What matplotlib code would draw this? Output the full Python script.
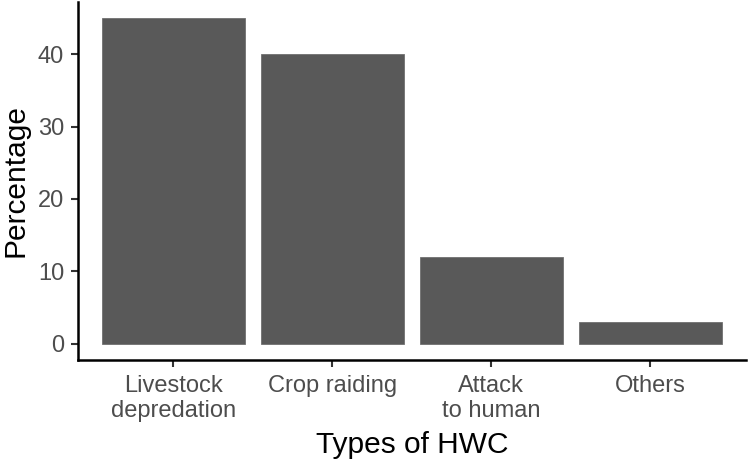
import matplotlib.pyplot as plt
import numpy as np

plt.rcParams['font.family'] = ['Liberation Sans', 'DejaVu Sans']

# data
categories = ['Livestock\ndepredation', 'Crop raiding', 'Attack\nto human', 'Others']
percent = [45, 40, 12, 3]
yticks = [0, 10, 20, 30, 40]

fig = plt.figure(figsize=(7.5, 4.59), dpi=100)
ax = fig.add_axes([0.104, 0.216, 0.89, 0.78])

x = np.arange(1, len(categories) + 1)
ax.bar(x, percent, width=0.9, color='#595959', edgecolor='#707070', linewidth=0.6)

# ggplot style expansion
ax.set_xlim(0.4, len(categories) + 0.6)
top = max(percent)
ax.set_ylim(-0.05 * top, top * 1.05)

ax.set_xticks(x)
ax.set_xticklabels(categories, linespacing=1.15)
ax.set_yticks(yticks)

ax.tick_params(axis='both', labelsize=17, labelcolor='#4d4d4d', color='#333333',
               length=5, width=1.5)
ax.tick_params(axis='x', pad=6)
ax.tick_params(axis='y', pad=5)

for side in ['top', 'right']:
    ax.spines[side].set_visible(False)
for side in ['left', 'bottom']:
    ax.spines[side].set_linewidth(1.8)
    ax.spines[side].set_color('black')

ax.set_xlabel('Types of HWC', fontsize=21.5, labelpad=7)
ax.set_ylabel('Percentage', fontsize=21.5, labelpad=6)

fig.savefig('out.png', dpi=100)
